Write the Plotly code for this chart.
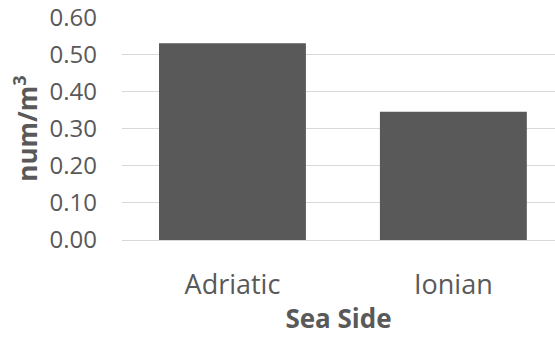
import plotly.graph_objects as go

# Mean abundance per sea side
sea_sides = ["Adriatic", "Ionian"]
abundance = [0.53, 0.345]
y_ticks = [0.0, 0.1, 0.2, 0.3, 0.4, 0.5, 0.6]
y_tick_labels = ["0.00", "0.10", "0.20", "0.30", "0.40", "0.50", "0.60"]

TEXT = "#595959"
GRID = "#d9d9d9"
FONT = "Open Sans"

fig = go.Figure(
    go.Bar(
        x=sea_sides,
        y=abundance,
        marker=dict(color="#595959", line=dict(width=0)),
        hoverinfo="x+y",
    )
)

fig.update_layout(
    width=555,
    height=338,
    margin=dict(l=122, r=0, t=17, b=98),
    paper_bgcolor="white",
    plot_bgcolor="white",
    bargap=0.335,
    showlegend=False,
    font=dict(family=FONT, color=TEXT),
)

fig.update_xaxes(
    type="category",
    range=[-0.5, 1.46],
    showgrid=False,
    showline=False,
    ticks="",
    tickfont=dict(family=FONT, size=27, color=TEXT),
    ticklabelstandoff=26,
    title=dict(
        text="Sea Side",
        font=dict(family=FONT, size=26, color=TEXT, weight="bold"),
        standoff=8,
    ),
)

fig.update_yaxes(
    range=[0, 0.6004],
    tickvals=y_ticks,
    ticktext=y_tick_labels,
    ticklabeloverflow="allow",
    showgrid=True,
    gridcolor=GRID,
    gridwidth=1.3,
    zeroline=True,
    zerolinecolor=GRID,
    zerolinewidth=1.3,
    showline=False,
    ticks="",
    tickfont=dict(family=FONT, size=24, color=TEXT),
    ticklabelstandoff=24,
    title=dict(
        text="num/m<sup>3</sup>",
        font=dict(family=FONT, size=26, color=TEXT, weight="bold"),
        standoff=4,
    ),
)

fig.write_html("out.html")
